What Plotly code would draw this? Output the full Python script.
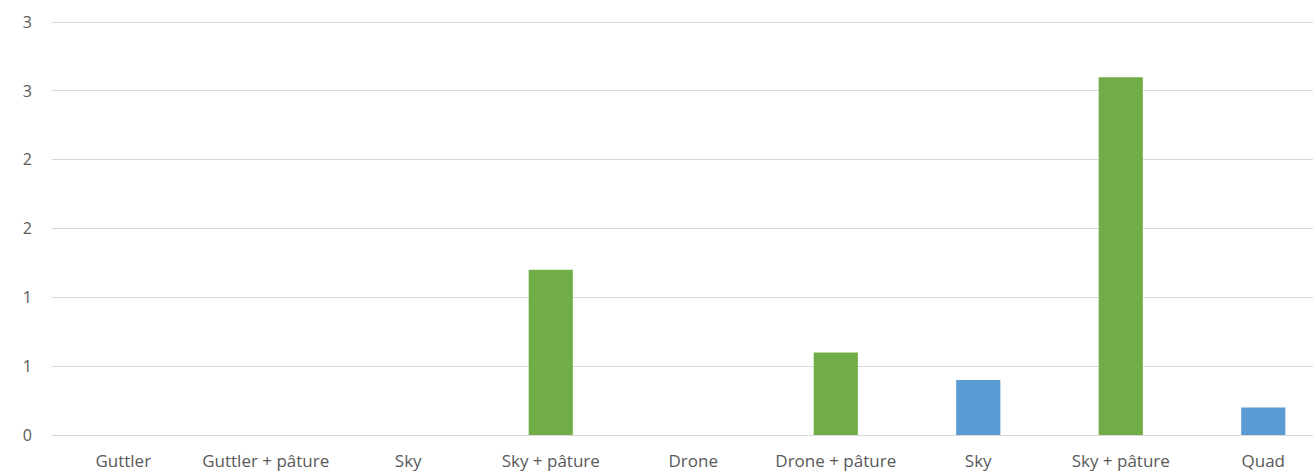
import plotly.graph_objects as go

categories = ["Guttler", "Guttler + pâture", "Sky", "Sky + pâture", "Drone",
              "Drone + pâture", "Sky", "Sky + pâture", "Quad"]
green_values = [0, 0, 0, 1.2, 0, 0.6, 0, 2.6, 0]
blue_values = [0, 0, 0, 0, 0, 0, 0.4, 0, 0.2]
y_tickvals = [0, 0.5, 1, 1.5, 2, 2.5, 3]
y_ticktext = ["0", "1", "1", "2", "2", "3", "3"]

x = list(range(len(categories)))

fig = go.Figure()
fig.add_trace(go.Bar(x=x, y=green_values, marker=dict(color="#70AD47", line=dict(width=0)),
                     width=0.31, name="green"))
fig.add_trace(go.Bar(x=x, y=blue_values, marker=dict(color="#5B9BD5", line=dict(width=0)),
                     width=0.31, name="blue"))

fig.update_layout(
    width=1313, height=472,
    barmode="overlay",
    showlegend=False,
    plot_bgcolor="white", paper_bgcolor="white",
    margin=dict(l=52, r=0, t=18, b=37),
    font=dict(family="Open Sans, sans-serif", size=17, color="#595959"),
    xaxis=dict(range=[-0.5, 8.349], tickvals=x, ticktext=categories,
               showgrid=False, zeroline=False, showline=False, ticks="",
               ticklabelstandoff=14, tickfont=dict(size=17)),
    yaxis=dict(range=[0, 3.03], tickvals=y_tickvals, ticktext=y_ticktext,
               showgrid=True, gridcolor="#D9D9D9", gridwidth=1,
               zeroline=True, zerolinecolor="#D9D9D9", zerolinewidth=1,
               showline=False, ticks="", ticklabelstandoff=19, tickfont=dict(size=16)),
)

fig.write_html("out.html", config={"displayModeBar": False},
               post_script="document.body.style.margin='0';")
